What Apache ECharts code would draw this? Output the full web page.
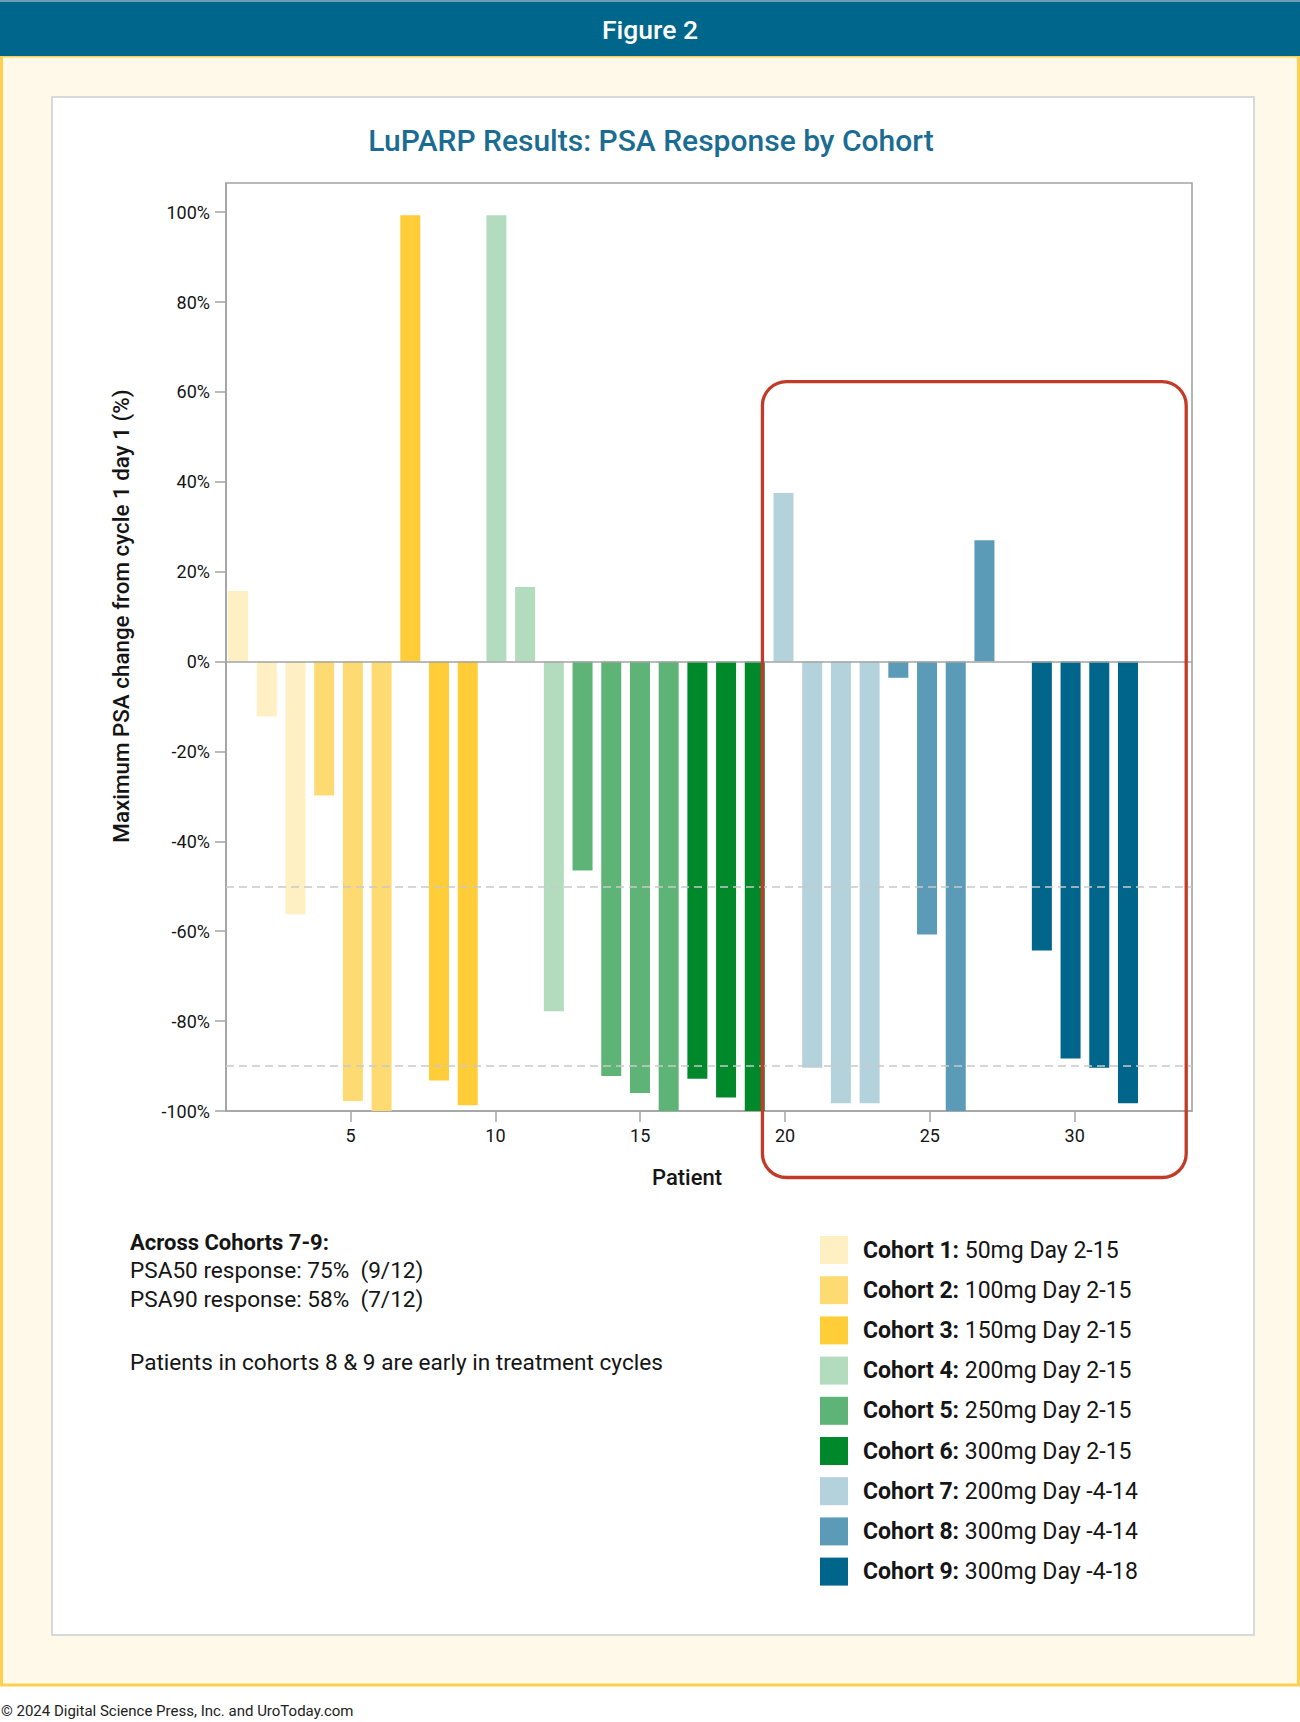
<!DOCTYPE html>
<html>
<head>
<meta charset="utf-8">
<script src="https://cdn.jsdelivr.net/npm/echarts@6/dist/echarts.min.js"></script>
<style>
  html, body { margin: 0; padding: 0; background: #ffffff; }
  #chart { width: 1300px; height: 1722px; }
</style>
</head>
<body>
<div id="chart"></div>
<script>
// ---------- data ----------
const cohortNames = ['Cohort 1', 'Cohort 2', 'Cohort 3', 'Cohort 4', 'Cohort 5', 'Cohort 6', 'Cohort 7', 'Cohort 8', 'Cohort 9'];
const cohortDoses = ['50mg Day 2-15', '100mg Day 2-15', '150mg Day 2-15', '200mg Day 2-15', '250mg Day 2-15', '300mg Day 2-15', '200mg Day -4-14', '300mg Day -4-14', '300mg Day -4-18'];
const cohortPatients = [
  [1, 2, 3],
  [4, 5, 6],
  [7, 8, 9],
  [10, 11, 12],
  [13, 14, 15, 16],
  [17, 18, 19],
  [20, 21, 22, 23],
  [24, 25, 26, 27],
  [29, 30, 31, 32]
];
const cohortValues = [
  [15.7, -12.2, -56.2],
  [-29.8, -97.8, -100],
  [99.3, -93.2, -98.7],
  [99.3, 16.6, -77.8],
  [-46.5, -92.2, -96.0, -100],
  [-92.8, -97.0, -100],
  [37.5, -90.4, -98.3, -98.3],
  [-3.6, -60.7, -100, 27.0],
  [-64.3, -88.3, -90.4, -98.3]
];
const yTicks = [-100, -80, -60, -40, -20, 0, 20, 40, 60, 80, 100];
const xTicks = [5, 10, 15, 20, 25, 30];
const responseLines = [-50, -90];
const highlightBox = { x0: 19.22, x1: 33.85, y0: 62.3, y1: -114.8 };
const noteLines = ['PSA50 response: 75%  (9/12)', 'PSA90 response: 58%  (7/12)'];

// ---------- style ----------
const colors = ['#fef0c3', '#fedb72', '#fecd38', '#b3dcbf', '#5eb476', '#00892b', '#b3d2dc', '#5b9bb7', '#00658b'];
const FONT = 'Roboto, "Noto Sans", sans-serif';
const INK = '#151515';

const chart = echarts.init(document.getElementById('chart'), null, { renderer: 'svg' });

const series = cohortNames.map((name, i) => ({
  type: 'bar',
  name: name,
  xAxisIndex: 1,
  yAxisIndex: 0,
  data: cohortPatients[i].map((p, j) => [p, cohortValues[i][j]]),
  barWidth: 20,
  barGap: '-100%',
  itemStyle: { color: colors[i] },
  z: 3
}));

series[0].markLine = {
  silent: true,
  symbol: 'none',
  label: { show: false },
  z: 4,
  data: [
    { yAxis: 0, lineStyle: { color: '#a3a3a3', width: 1.6, type: 'solid' } }
  ].concat(responseLines.map(v => ({ yAxis: v, lineStyle: { color: '#c9c9c9', width: 1.5, type: [8, 5] } })))
};

const bgGraphics = [
  { type: 'rect', z: -100, shape: { x: 0, y: 0, width: 1300, height: 1722 }, style: { fill: '#ffffff' } },
  { type: 'rect', z: -99, shape: { x: 1.5, y: 56, width: 1297, height: 1629 }, style: { fill: '#fff9ea', stroke: '#ffd04f', lineWidth: 3 } },
  { type: 'rect', z: -98, shape: { x: 0, y: 0, width: 1300, height: 56 }, style: { fill: '#00668b' } },
  { type: 'rect', z: -98, shape: { x: 0, y: 0, width: 1300, height: 2 }, style: { fill: '#6a9fb6' } },
  { type: 'rect', z: -97, shape: { x: 52, y: 97, width: 1202, height: 1538 }, style: { fill: '#ffffff', stroke: '#d9d9d9', lineWidth: 2 } },
  { type: 'text', z: 10, x: 650, y: 29, style: { text: 'Figure 2', fill: '#ffffff', font: '500 26.5px ' + FONT, textAlign: 'center', textVerticalAlign: 'middle' } },
  { type: 'text', z: 10, x: 651, y: 140, style: { text: 'LuPARP Results: PSA Response by Cohort', fill: '#1b6c93', font: '500 30px ' + FONT, textAlign: 'center', textVerticalAlign: 'middle' } },
  { type: 'text', z: 10, x: 121, y: 616, rotation: Math.PI / 2, style: { text: 'Maximum PSA change from cycle 1 day 1 (%)', fill: INK, font: '500 22.4px ' + FONT, textAlign: 'center', textVerticalAlign: 'middle' } },
  { type: 'text', z: 10, x: 687, y: 1177, style: { text: 'Patient', fill: INK, font: '500 22px ' + FONT, textAlign: 'center', textVerticalAlign: 'middle' } },
  { type: 'text', z: 10, x: 130, y: 1242, style: { text: 'Across Cohorts 7-9:', fill: INK, font: 'bold 22px ' + FONT, textAlign: 'left', textVerticalAlign: 'middle' } },
  { type: 'text', z: 10, x: 130, y: 1270, style: { text: noteLines[0], fill: INK, font: '22.6px ' + FONT, textAlign: 'left', textVerticalAlign: 'middle' } },
  { type: 'text', z: 10, x: 130, y: 1299, style: { text: noteLines[1], fill: INK, font: '22.6px ' + FONT, textAlign: 'left', textVerticalAlign: 'middle' } },
  { type: 'text', z: 10, x: 130, y: 1362, style: { text: 'Patients in cohorts 8 & 9 are early in treatment cycles', fill: INK, font: '22.6px ' + FONT, textAlign: 'left', textVerticalAlign: 'middle' } },
  { type: 'text', z: 10, x: 1, y: 1711, style: { text: '\u00A9 2024 Digital Science Press, Inc. and UroToday.com', fill: '#222', font: '15px ' + FONT, textAlign: 'left', textVerticalAlign: 'middle' } }
];

chart.setOption({
  animation: false,
  backgroundColor: 'transparent',
  grid: {
    left: 226, top: 183, width: 966, height: 928,
    show: true, backgroundColor: '#ffffff', borderColor: '#a3a3a3', borderWidth: 1.6,
    containLabel: false
  },
  legend: {
    data: cohortNames,
    orient: 'vertical',
    left: 815, top: 1231,
    itemWidth: 28, itemHeight: 28, itemGap: 12.2,
    icon: 'rect',
    selectedMode: false,
    formatter: name => '{b|' + name + ':} ' + cohortDoses[cohortNames.indexOf(name)],
    textStyle: {
      fontFamily: FONT, fontSize: 23, color: INK, padding: [0, 0, 0, 10],
      rich: { b: { fontFamily: FONT, fontSize: 23, fontWeight: 'bold', color: INK } }
    }
  },
  xAxis: [{
    type: 'value', min: 0.7, max: 34.05,
    axisLine: { show: true, onZero: false, lineStyle: { color: '#a3a3a3', width: 1.6 } },
    axisTick: { show: true, length: 11, customValues: xTicks, lineStyle: { color: '#a3a3a3', width: 1.5 } },
    axisLabel: { customValues: xTicks, margin: 15, fontFamily: FONT, fontSize: 18, color: INK },
    splitLine: { show: false }
  }, {
    type: 'value', min: 0.58, max: 34.23, show: false,
    axisLine: { onZero: false },
    splitLine: { show: false }
  }],
  yAxis: {
    type: 'value', min: -100, max: 106.5,
    axisLine: { show: true, lineStyle: { color: '#a3a3a3', width: 1.6 } },
    axisTick: { show: true, length: 11, customValues: yTicks, lineStyle: { color: '#a3a3a3', width: 1.5 } },
    axisLabel: { customValues: yTicks, margin: 16, fontFamily: FONT, fontSize: 18, color: INK, formatter: v => v + '%' },
    splitLine: { show: false }
  },
  graphic: { elements: bgGraphics },
  series: series
});

// Highlight box (annotation) positioned via axis scales
const pTL = chart.convertToPixel({ xAxisIndex: 0, yAxisIndex: 0 }, [highlightBox.x0, highlightBox.y0]);
const pBR = chart.convertToPixel({ xAxisIndex: 0, yAxisIndex: 0 }, [highlightBox.x1, highlightBox.y1]);
chart.setOption({
  graphic: {
    elements: bgGraphics.concat([{
      type: 'rect', z: 20,
      shape: { x: pTL[0], y: pTL[1], width: pBR[0] - pTL[0], height: pBR[1] - pTL[1], r: 24 },
      style: { fill: 'none', stroke: '#c13b28', lineWidth: 3.3 }
    }])
  }
});
</script>
</body>
</html>
